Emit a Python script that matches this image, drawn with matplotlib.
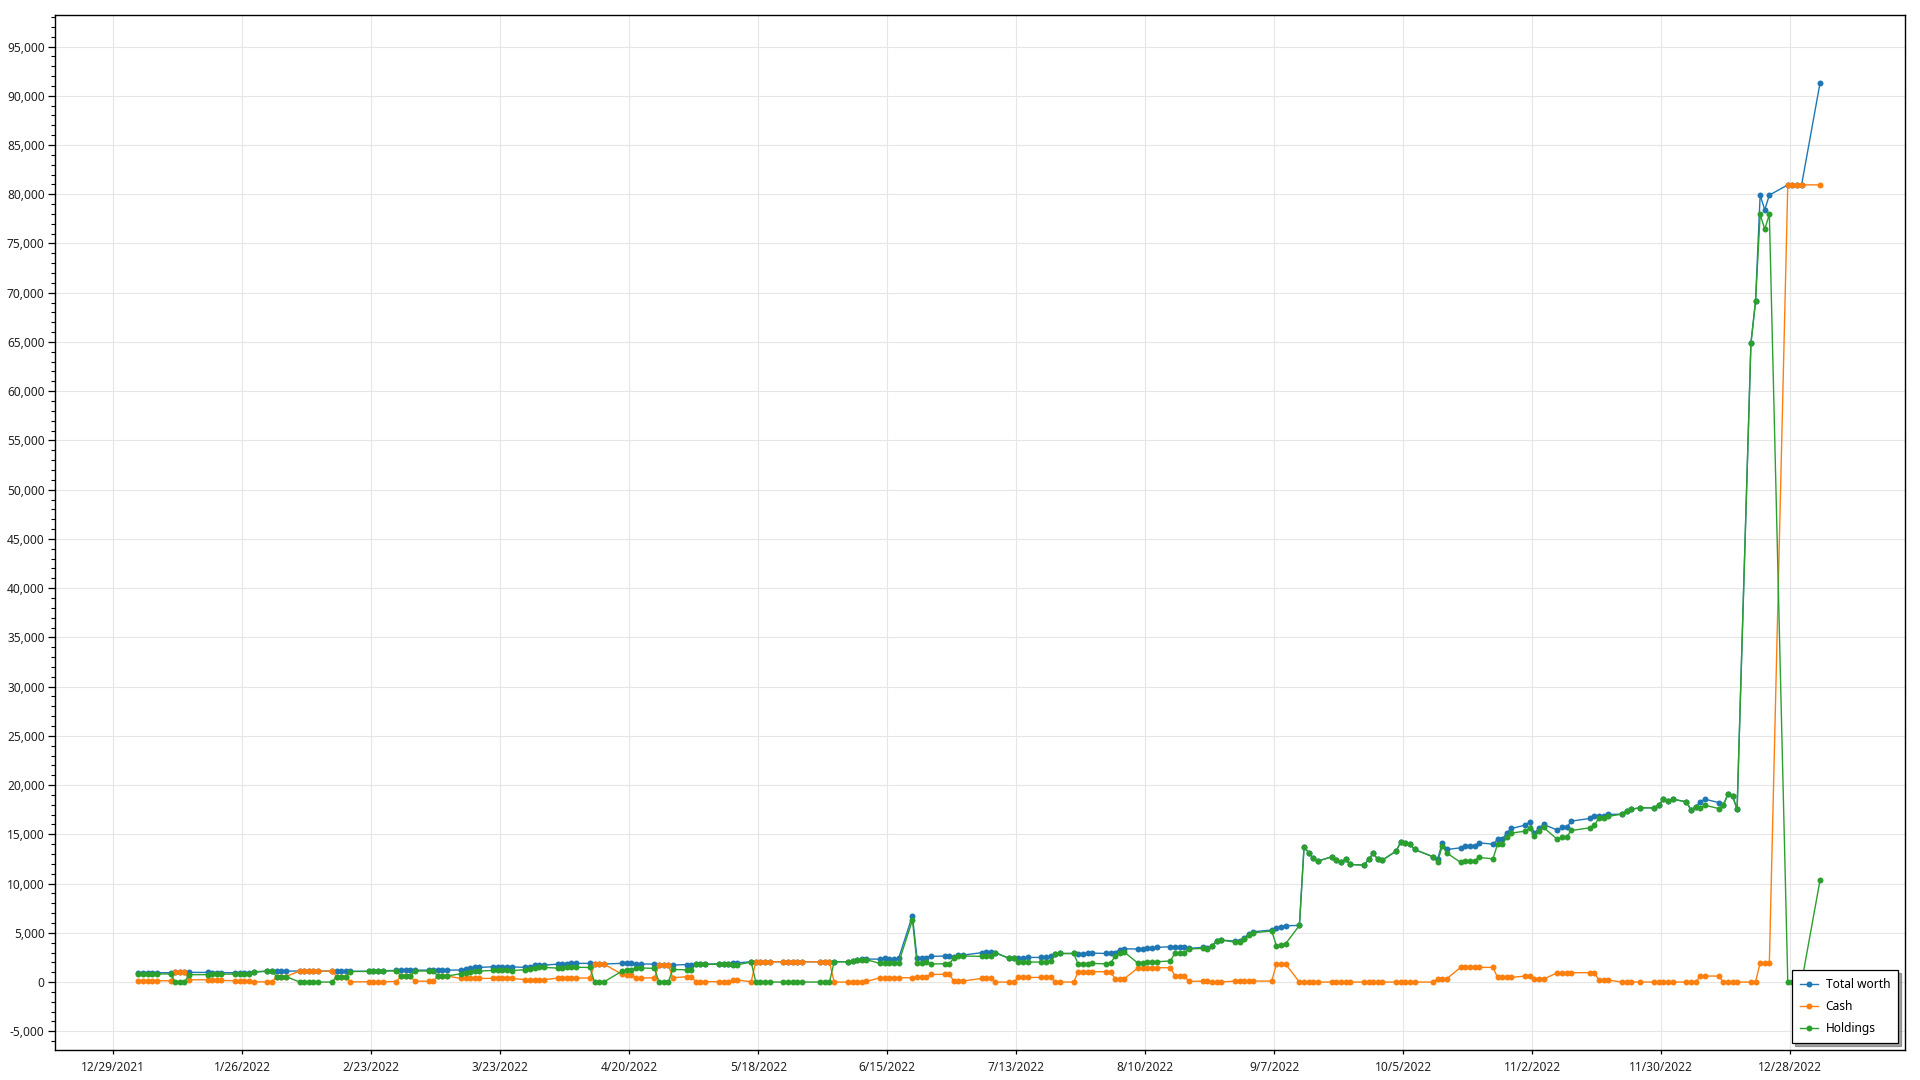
import matplotlib
matplotlib.use("Agg")
import matplotlib.pyplot as plt
import matplotlib.ticker as mticker
import pandas as pd

# ---------------- data ----------------
dates = [
    "2022-01-03", "2022-01-04", "2022-01-05", "2022-01-06", "2022-01-07",
    "2022-01-10", "2022-01-11", "2022-01-12", "2022-01-13", "2022-01-14",
    "2022-01-18", "2022-01-19", "2022-01-20", "2022-01-21",
    "2022-01-24", "2022-01-25", "2022-01-26", "2022-01-27", "2022-01-28",
    "2022-01-31", "2022-02-01", "2022-02-02", "2022-02-03", "2022-02-04",
    "2022-02-07", "2022-02-08", "2022-02-09", "2022-02-10", "2022-02-11",
    "2022-02-14", "2022-02-15", "2022-02-16", "2022-02-17", "2022-02-18",
    "2022-02-22", "2022-02-23", "2022-02-24", "2022-02-25",
    "2022-02-28", "2022-03-01", "2022-03-02", "2022-03-03", "2022-03-04",
    "2022-03-07", "2022-03-08", "2022-03-09", "2022-03-10", "2022-03-11",
    "2022-03-14", "2022-03-15", "2022-03-16", "2022-03-17", "2022-03-18",
    "2022-03-21", "2022-03-22", "2022-03-23", "2022-03-24", "2022-03-25",
    "2022-03-28", "2022-03-29", "2022-03-30", "2022-03-31", "2022-04-01",
    "2022-04-04", "2022-04-05", "2022-04-06", "2022-04-07", "2022-04-08",
    "2022-04-11", "2022-04-12", "2022-04-13", "2022-04-14",
    "2022-04-18", "2022-04-19", "2022-04-20", "2022-04-21", "2022-04-22",
    "2022-04-25", "2022-04-26", "2022-04-27", "2022-04-28", "2022-04-29",
    "2022-05-02", "2022-05-03", "2022-05-04", "2022-05-05", "2022-05-06",
    "2022-05-09", "2022-05-10", "2022-05-11", "2022-05-12", "2022-05-13",
    "2022-05-16", "2022-05-17", "2022-05-18", "2022-05-19", "2022-05-20",
    "2022-05-23", "2022-05-24", "2022-05-25", "2022-05-26", "2022-05-27",
    "2022-05-31", "2022-06-01", "2022-06-02", "2022-06-03",
    "2022-06-06", "2022-06-07", "2022-06-08", "2022-06-09", "2022-06-10",
    "2022-06-13", "2022-06-14", "2022-06-15", "2022-06-16", "2022-06-17",
    "2022-06-20", "2022-06-21", "2022-06-22", "2022-06-23", "2022-06-24",
    "2022-06-27", "2022-06-28", "2022-06-29", "2022-06-30", "2022-07-01",
    "2022-07-05", "2022-07-06", "2022-07-07", "2022-07-08",
    "2022-07-11", "2022-07-12", "2022-07-13", "2022-07-14", "2022-07-15",
    "2022-07-18", "2022-07-19", "2022-07-20", "2022-07-21", "2022-07-22",
    "2022-07-25", "2022-07-26", "2022-07-27", "2022-07-28", "2022-07-29",
    "2022-08-01", "2022-08-02", "2022-08-03", "2022-08-04", "2022-08-05",
    "2022-08-08", "2022-08-09", "2022-08-10", "2022-08-11", "2022-08-12",
    "2022-08-15", "2022-08-16", "2022-08-17", "2022-08-18", "2022-08-19",
    "2022-08-22", "2022-08-23", "2022-08-24", "2022-08-25", "2022-08-26",
    "2022-08-29", "2022-08-30", "2022-08-31", "2022-09-01", "2022-09-02",
    "2022-09-06", "2022-09-07", "2022-09-08", "2022-09-09",
    "2022-09-12", "2022-09-13", "2022-09-14", "2022-09-15", "2022-09-16",
    "2022-09-19", "2022-09-20", "2022-09-21", "2022-09-22", "2022-09-23",
    "2022-09-26", "2022-09-27", "2022-09-28", "2022-09-29", "2022-09-30",
    "2022-10-03", "2022-10-04", "2022-10-05", "2022-10-06", "2022-10-07",
    "2022-10-11", "2022-10-12", "2022-10-13", "2022-10-14",
    "2022-10-17", "2022-10-18", "2022-10-19", "2022-10-20", "2022-10-21",
    "2022-10-24", "2022-10-25", "2022-10-26", "2022-10-27", "2022-10-28",
    "2022-10-31", "2022-11-01", "2022-11-02", "2022-11-03", "2022-11-04",
    "2022-11-07", "2022-11-08", "2022-11-09", "2022-11-10",
    "2022-11-14", "2022-11-15", "2022-11-16", "2022-11-17", "2022-11-18",
    "2022-11-21", "2022-11-22", "2022-11-23", "2022-11-25",
    "2022-11-28", "2022-11-29", "2022-11-30", "2022-12-01", "2022-12-02",
    "2022-12-05", "2022-12-06", "2022-12-07", "2022-12-08", "2022-12-09",
    "2022-12-12", "2022-12-13", "2022-12-14", "2022-12-15", "2022-12-16",
    "2022-12-19", "2022-12-20", "2022-12-21", "2022-12-22", "2022-12-23",
    "2022-12-27", "2022-12-28", "2022-12-29", "2022-12-30",
    "2023-01-03",
]

total_worth = [
    950, 950, 950, 950, 960,
    950, 1020, 1020, 1020, 980,
    980, 960, 960, 960,
    940, 940, 940, 940, 1030,
    1120, 1120, 1120, 1120, 1120,
    1110, 1110, 1110, 1110, 1110,
    1110, 1110, 1110, 1110, 1090,
    1110, 1110, 1110, 1150,
    1180, 1200, 1200, 1200, 1210,
    1210, 1210, 1220, 1220, 1220,
    1220, 1300, 1420, 1490, 1490,
    1550, 1570, 1570, 1550, 1540,
    1490, 1560, 1700, 1720, 1720,
    1820, 1850, 1880, 1900, 1900,
    1890, 1830, 1830, 1830,
    1900, 1900, 1900, 1830, 1830,
    1830, 1720, 1720, 1720, 1720,
    1780, 1780, 1830, 1830, 1830,
    1850, 1850, 1880, 1950, 1950,
    2060, 2060, 2060, 2060, 2060,
    2060, 2060, 2060, 2060, 2060,
    2060, 2060, 2060, 2060,
    2060, 2150, 2250, 2300, 2330,
    2330, 2400, 2330, 2330, 2400,
    6730, 2400, 2440, 2480, 2610,
    2640, 2610, 2580, 2700, 2740,
    2980, 3010, 3040, 2980,
    2400, 2400, 2470, 2470, 2500,
    2500, 2540, 2610, 2840, 2900,
    2900, 2850, 2880, 2900, 2940,
    2900, 2950, 2980, 3300, 3380,
    3350, 3400, 3450, 3490, 3520,
    3590, 3590, 3590, 3590, 3420,
    3520, 3490, 3650, 4160, 4260,
    4160, 4160, 4500, 4840, 5110,
    5280, 5510, 5620, 5720,
    5750, 13735, 13130, 12550, 12280,
    12720, 12380, 12145, 12480, 11940,
    11875, 12450, 13060, 12480, 12380,
    13300, 14240, 14070, 14000, 13460,
    12720, 12480, 14140, 13460,
    13630, 13800, 13800, 13800, 14140,
    14000, 14480, 14480, 15150, 15600,
    15930, 16270, 15090, 15660, 16000,
    15430, 15700, 15700, 16340,
    16610, 16850, 16850, 16850, 17020,
    17050, 17390, 17560, 17690,
    17690, 17960, 18570, 18370, 18570,
    18300, 17460, 17800, 18300, 18570,
    18230, 17960, 19080, 18880, 17560,
    64860, 69120, 79910, 78420, 79910,
    80950, 80950, 80950, 80950,
    91300,
]

cash = [
    130, 130, 130, 130, 130,
    130, 1020, 1020, 1020, 230,
    230, 160, 160, 160,
    130, 130, 130, 130, 20,
    30, 30, 560, 560, 560,
    1110, 1110, 1110, 1110, 1110,
    1110, 560, 560, 560, 20,
    30, 30, 30, 30,
    50, 600, 600, 600, 90,
    90, 90, 610, 610, 610,
    370, 370, 370, 370, 370,
    370, 370, 370, 370, 370,
    240, 240, 240, 240, 240,
    400, 400, 400, 400, 400,
    410, 1830, 1830, 1830,
    780, 710, 710, 400, 400,
    440, 1720, 1720, 1720, 440,
    540, 540, 40, 40, 40,
    40, 40, 40, 200, 200,
    30, 2060, 2060, 2060, 2060,
    2060, 2060, 2060, 2060, 2060,
    2060, 2060, 2060, 0,
    0, 0, 30, 30, 60,
    440, 440, 440, 440, 440,
    440, 470, 470, 470, 780,
    780, 780, 100, 100, 100,
    370, 370, 370, 0,
    0, 0, 470, 470, 470,
    470, 470, 470, 0, 0,
    0, 1050, 1050, 1050, 1050,
    1050, 1050, 340, 340, 340,
    1455, 1455, 1455, 1455, 1455,
    1455, 610, 610, 610, 70,
    100, 100, 0, 0, 0,
    100, 100, 100, 100, 100,
    100, 1830, 1830, 1830,
    0, 0, 0, 0, 0,
    0, 0, 0, 0, 0,
    0, 0, 0, 0, 0,
    0, 0, 0, 0, 0,
    0, 300, 300, 350,
    1490, 1490, 1490, 1490, 1490,
    1490, 470, 470, 470, 470,
    610, 610, 300, 300, 300,
    950, 950, 950, 950,
    950, 950, 200, 200, 200,
    0, 0, 0, 0,
    0, 0, 0, 0, 0,
    0, 0, 0, 610, 610,
    610, 0, 0, 0, 0,
    0, 0, 1960, 1960, 1960,
    80950, 80950, 80950, 80950,
    80950,
]

holdings = [
    820, 820, 820, 820, 830,
    820, 0, 0, 0, 750,
    750, 800, 800, 800,
    810, 810, 810, 810, 1010,
    1090, 1090, 560, 560, 560,
    0, 0, 0, 0, 0,
    0, 550, 550, 550, 1070,
    1080, 1080, 1080, 1120,
    1130, 600, 600, 600, 1120,
    1120, 1120, 610, 610, 610,
    850, 930, 1050, 1120, 1120,
    1180, 1200, 1200, 1180, 1170,
    1250, 1320, 1460, 1480, 1480,
    1420, 1450, 1480, 1500, 1500,
    1480, 0, 0, 0,
    1120, 1190, 1190, 1430, 1430,
    1390, 0, 0, 0, 1280,
    1240, 1240, 1790, 1790, 1790,
    1810, 1810, 1840, 1750, 1750,
    2030, 0, 0, 0, 0,
    0, 0, 0, 0, 0,
    0, 0, 0, 2060,
    2060, 2150, 2220, 2270, 2270,
    1890, 1960, 1890, 1890, 1960,
    6290, 1930, 1970, 2010, 1830,
    1860, 1830, 2480, 2600, 2640,
    2610, 2640, 2670, 2980,
    2400, 2400, 2000, 2000, 2030,
    2030, 2070, 2140, 2840, 2900,
    2900, 1800, 1830, 1850, 1890,
    1850, 1900, 2640, 2960, 3040,
    1895, 1945, 1995, 2035, 2065,
    2135, 2980, 2980, 2980, 3350,
    3420, 3390, 3650, 4160, 4260,
    4060, 4060, 4400, 4740, 5010,
    5180, 3680, 3790, 3890,
    5750, 13735, 13130, 12550, 12280,
    12720, 12380, 12145, 12480, 11940,
    11875, 12450, 13060, 12480, 12380,
    13300, 14240, 14070, 14000, 13460,
    12720, 12180, 13840, 13110,
    12140, 12310, 12310, 12310, 12650,
    12510, 14010, 14010, 14680, 15130,
    15320, 15660, 14790, 15360, 15700,
    14480, 14750, 14750, 15390,
    15660, 15900, 16650, 16650, 16820,
    17050, 17390, 17560, 17690,
    17690, 17960, 18570, 18370, 18570,
    18300, 17460, 17800, 17690, 17960,
    17620, 17960, 19080, 18880, 17560,
    64860, 69120, 77950, 76460, 77950,
    0, 0, 0, 0,
    10350,
]

series_names = ["Total worth", "Cash", "Holdings"]
series_colors = ["#1f77b4", "#ff7f0e", "#2ca02c"]

y_major_step = 5000
y_minor_step = 1000
x_tick_start = "2021-12-29"
x_tick_step_days = 28

# ---------------- figure ----------------
plt.rcParams["font.family"] = ["Noto Sans", "DejaVu Sans"]
plt.rcParams["font.size"] = 8.6

fig = plt.figure(figsize=(19.2, 10.8), dpi=100)
ax = fig.add_axes([55 / 1920, 30 / 1080, 1850 / 1920, 1035 / 1080])

x = pd.to_datetime(dates) + pd.Timedelta(hours=11)
for name, vals, col in zip(series_names, [total_worth, cash, holdings], series_colors):
    ax.plot(x, vals, color=col, lw=1.0, marker="o", markersize=4.3,
            markeredgewidth=0, label=name, zorder=3)

start = pd.Timestamp(x_tick_start)
ax.set_xlim(start - pd.Timedelta(days=12.65), start + pd.Timedelta(days=388.9))
ax.set_ylim(-6900, 98200)

ticks = [start + pd.Timedelta(days=x_tick_step_days * i) for i in range(14)]
ax.set_xticks(ticks)
ax.set_xticklabels([f"{t.month}/{t.day}/{t.year}" for t in ticks])

ax.yaxis.set_major_locator(mticker.MultipleLocator(y_major_step))
ax.yaxis.set_minor_locator(mticker.MultipleLocator(y_minor_step))
ax.yaxis.set_major_formatter(mticker.FuncFormatter(lambda v, p: f"{int(v):,}"))

ax.grid(True, which="major", color="#e6e6e6", lw=0.8, zorder=0)
ax.set_axisbelow(True)
ax.tick_params(axis="y", which="major", length=5, width=0.9, pad=2.5, colors="black", labelcolor="#222222")
ax.tick_params(axis="y", which="minor", length=3, width=0.8)
ax.tick_params(axis="x", which="major", length=3, width=0.9, pad=5, labelcolor="#222222")
for s in ax.spines.values():
    s.set_color("black")
    s.set_linewidth(1.0)

leg = ax.legend(loc="lower right", frameon=True, fancybox=False, shadow=True,
                edgecolor="black", framealpha=1, borderaxespad=0.55,
                handlelength=1.5, handletextpad=0.6, labelspacing=0.75,
                borderpad=0.7, fontsize=8.6)
leg.get_frame().set_linewidth(0.9)

fig.savefig("out.png", dpi=100, facecolor="white")
